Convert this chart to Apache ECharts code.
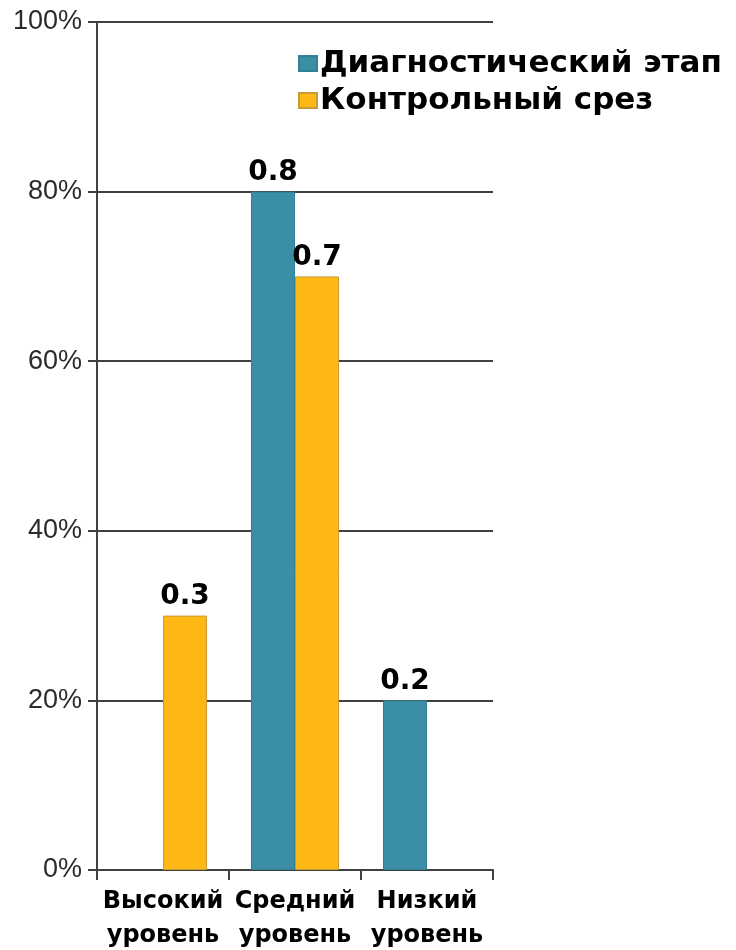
<!DOCTYPE html>
<html><head><meta charset="utf-8">
<script src="https://cdn.jsdelivr.net/npm/echarts@6/dist/echarts.min.js"></script>
<style>html,body{margin:0;padding:0;background:#fff;overflow:hidden}#c{width:736px;height:950px}</style>
</head><body><div id="c"></div>
<script>
const categories = ['Высокий\nуровень', 'Средний\nуровень', 'Низкий\nуровень'];
const seriesNames = ['Диагностический этап', 'Контрольный срез'];
const diagnostic = [0, 0.8, 0.2];
const control = [0.3, 0.7, 0];
const yTicks = [0, 0.2, 0.4, 0.6, 0.8, 1.0];

const font = '"Liberation Sans", Arial, sans-serif';
const boldFont = '"DejaVu Sans", "Liberation Sans", Arial, sans-serif';
const chart = echarts.init(document.getElementById('c'));
const labelCfg = {
  show: true, position: 'top', distance: 5,
  fontFamily: boldFont, fontWeight: 'bold', fontSize: 28, color: '#000',
  formatter: p => p.value ? String(p.value) : ''
};
const noZero = arr => arr.map(v => v === 0 ? null : v);
chart.setOption({
  animation: false,
  textStyle: { fontFamily: font },
  grid: { left: 97, right: 243, top: 22, bottom: 80, containLabel: false, outerBoundsMode: 'none' },
  legend: {
    orient: 'vertical', left: 293, top: 43,
    icon: 'rect', itemWidth: 18, itemHeight: 15, itemGap: 6,
    textStyle: { fontFamily: boldFont, fontWeight: 'bold', fontSize: 31, color: '#000', padding: [0, 0, 0, -2] },
    data: seriesNames
  },
  xAxis: {
    type: 'category', data: categories,
    axisLine: { lineStyle: { color: '#404040', width: 2 } },
    axisTick: { show: true, length: 10, lineStyle: { color: '#404040', width: 2 } },
    axisLabel: { fontFamily: boldFont, fontWeight: 'bold', fontSize: 24, color: '#000', lineHeight: 34, margin: 15, interval: 0 }
  },
  yAxis: {
    type: 'value', min: 0, max: 1, interval: 0.2,
    axisLine: { show: true, lineStyle: { color: '#404040', width: 2 } },
    axisTick: { show: true, length: 9, lineStyle: { color: '#404040', width: 2 } },
    splitLine: { lineStyle: { color: '#404040', width: 2 } },
    axisLabel: { fontFamily: font, fontSize: 27, color: '#2b2b2b', margin: 15,
      formatter: v => yTicks.includes(Math.round(v*10)/10) ? Math.round(v*100) + '%' : '' }
  },
  series: [
    { name: seriesNames[0], type: 'bar', data: noZero(diagnostic), barGap: '0%', barCategoryGap: '33.3%',
      itemStyle: { color: '#3A8FA6', borderColor: '#337f93', borderWidth: 1 }, label: labelCfg },
    { name: seriesNames[1], type: 'bar', data: noZero(control),
      itemStyle: { color: '#FDB813', borderColor: '#c99a3a', borderWidth: 1 }, label: labelCfg }
  ]
});
</script></body></html>
